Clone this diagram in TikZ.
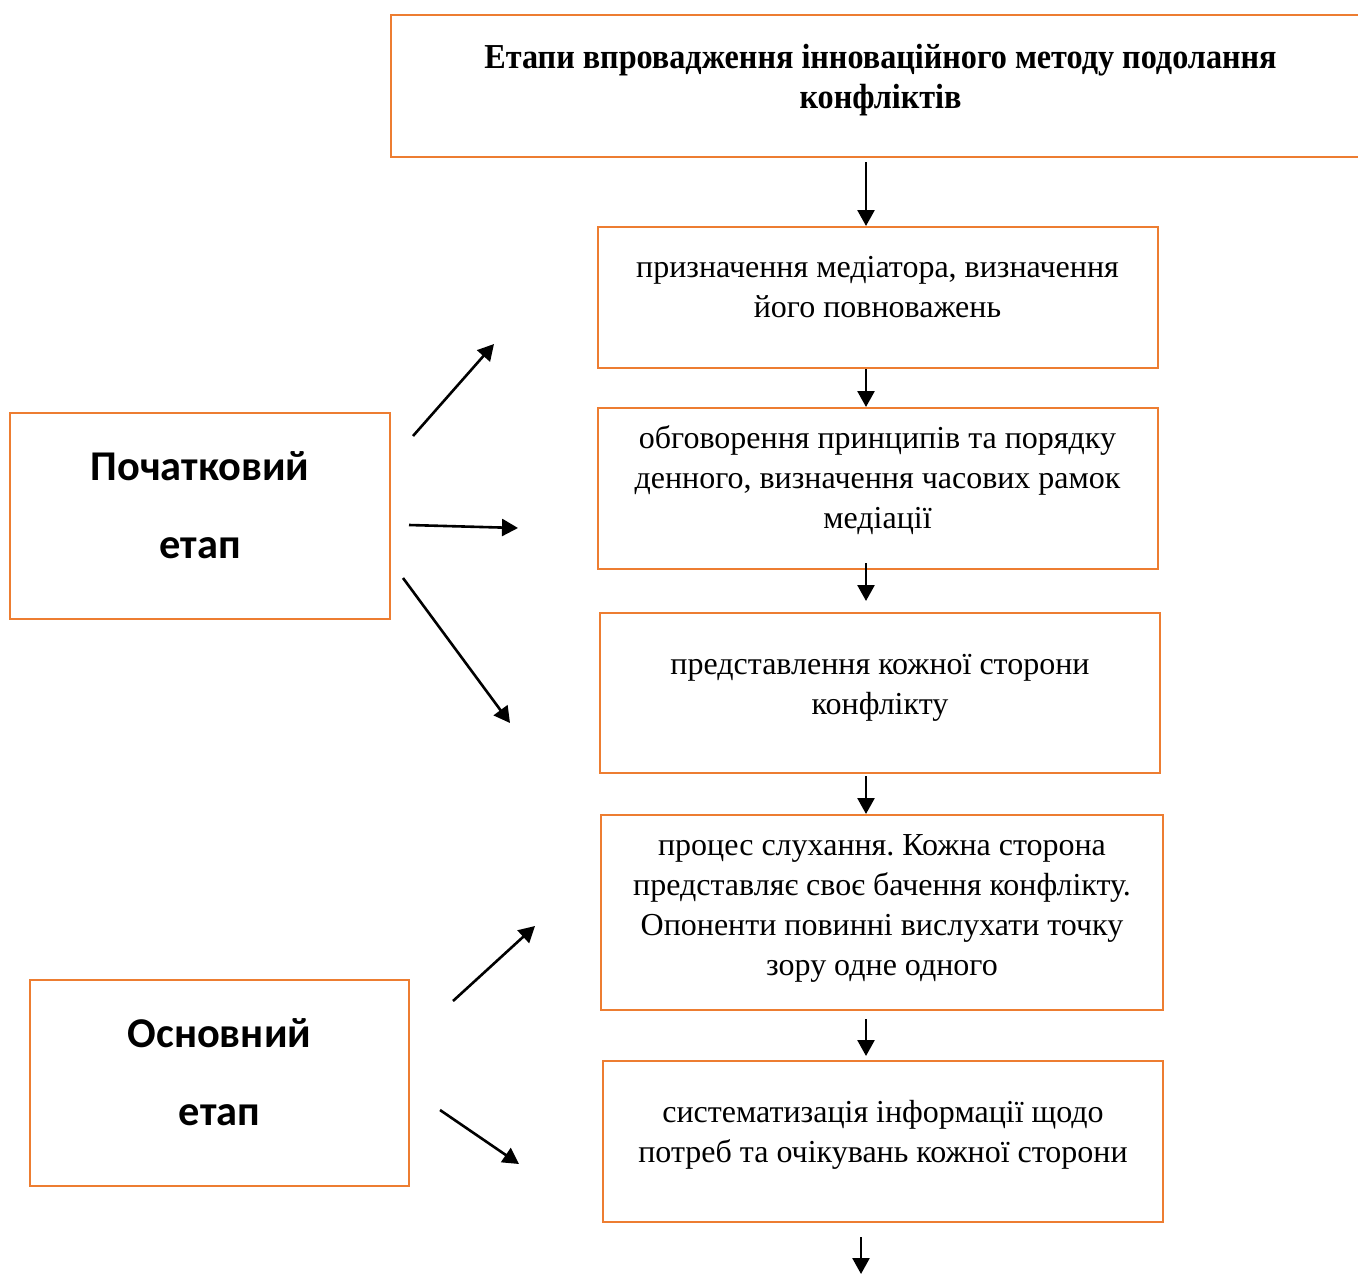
\documentclass[tikz,border=0pt]{standalone}
\usepackage{fontspec}
\setmainfont{Liberation Serif}
\newfontfamily\stagefont{Carlito}
\newfontfamily\titlefont[FakeStretch=0.92]{Liberation Serif}
\usetikzlibrary{arrows.meta,positioning}
\definecolor{boxorange}{RGB}{237,125,49}
\frenchspacing

\begin{document}
\begin{tikzpicture}[x=0.5pt,y=-0.5pt,
		stepbox/.style={draw=boxorange, line width=1pt, align=center, inner sep=0pt,
			minimum width=280pt, text depth=0pt, font=\fontsize{16}{20}\selectfont},
		stagebox/.style={stepbox, minimum width=190pt, minimum height=103pt,
			font=\stagefont\bfseries\fontsize{21.2}{39}\selectfont},
		arr/.style={-{Triangle[length=8pt,width=8.5pt]}, line width=1.3pt}
	]
	\useasboundingbox (0,0) rectangle (1358,1274);
	% stages of the method
	\node[stepbox, minimum width=489.5pt, minimum height=71pt, text height=22pt,
		font=\titlefont\bfseries\fontsize{17.5}{20}\selectfont] (title) at (880.5,86)
		{Етапи впровадження інноваційного методу подолання\\конфліктів};
	\node[stepbox, minimum height=70.5pt, text height=19.5pt] (b1) at (877.5,297.5)
		{призначення медіатора, визначення\\його повноважень};
	\node[stepbox, minimum height=80.5pt, text height=39.5pt] (b2) at (877.5,488.5)
		{обговорення принципів та порядку\\денного, визначення часових рамок\\медіації};
	\node[stepbox, minimum height=80pt, text height=21pt] (b3) at (880,693)
		{представлення кожної сторони\\конфлікту};
	\node[stepbox, minimum width=281pt, minimum height=97.5pt, text height=63pt] (b4) at (882,912.5)
		{процес слухання. Кожна сторона\\представляє своє бачення конфлікту.\\Опоненти повинні вислухати точку\\зору одне одного};
	\node[stepbox, minimum height=80.5pt, text height=20.5pt] (b5) at (883,1141.5)
		{систематизація інформації щодо\\потреб та очікувань кожної сторони};
	% left stages
	\node[stagebox, text height=42.5pt] (start) at (200,516) {Початковий\\етап};
	\node[stagebox, minimum width=189.5pt, text height=42.5pt] (main) at (219.5,1082.5) {Основний\\етап};

	\coordinate (axis) at (866,0);
	\coordinate (tail) at (861,1274);
	\draw[arr] ([yshift=-2pt]title.south -| axis) -- (b1.north -| axis);
	\draw[arr] (b1.south -| axis) -- (b2.north -| axis);
	\draw[arr] ([yshift=3.5pt]b2.south -| axis) -- ([yshift=5.5pt]b3.north -| axis);
	\draw[arr] ([yshift=-1pt]b3.south -| axis) -- (b4.north -| axis);
	\draw[arr] ([yshift=-4pt]b4.south -| axis) -- ([yshift=2pt]b5.north -| axis);
	\draw[arr] ([yshift=-7pt]b5.south -| tail) -- (tail);

	% arrows from the stages
	\coordinate (s1) at (413,436);  \coordinate (e1) at (494,344);
	\coordinate (s2) at (409,525);  \coordinate (e2) at (518,528);
	\coordinate (s3) at (403,578);  \coordinate (e3) at (510,723);
	\coordinate (s4) at (453,1001); \coordinate (e4) at (535,926);
	\coordinate (s5) at (440,1110); \coordinate (e5) at (519,1164);
	\foreach \i in {1,...,5}{ \draw[arr] (s\i) -- (e\i); }
\end{tikzpicture}
\end{document}
